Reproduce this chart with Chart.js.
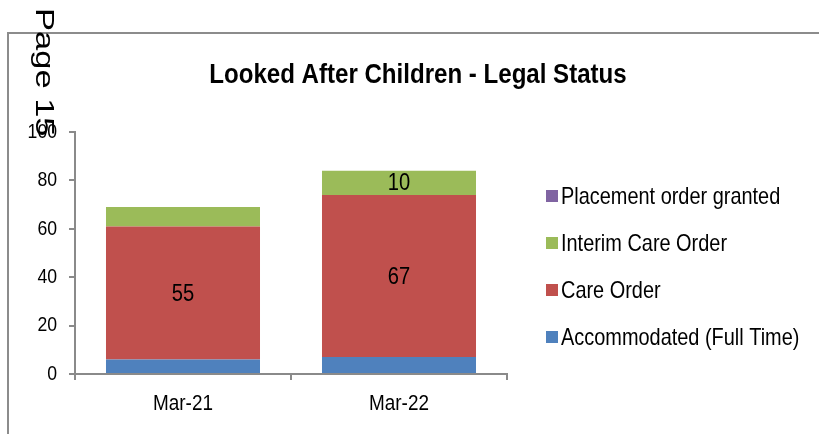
<!DOCTYPE html>
<html>
<head>
<meta charset="utf-8">
<script src="https://cdn.jsdelivr.net/npm/chart.js@4.4.1/dist/chart.umd.min.js"></script>
<style>
  html, body { margin: 0; padding: 0; background: #fff; }
  #wrap { width: 819px; height: 434px; }
</style>
</head>
<body>
<div id="wrap"><canvas id="legalChart" width="819" height="434"></canvas></div>
<script>
const categories = ['Mar-21', 'Mar-22'];
const seriesNames = ['Accommodated (Full Time)', 'Care Order', 'Interim Care Order', 'Placement order granted'];
const accommodated = [6, 7];
const careOrder = [55, 67];
const interimCareOrder = [8, 10];
const placementOrder = [0, 0];
const yTicks = [0, 20, 40, 60, 80, 100];

const colours = ['#4F81BD', '#C0504D', '#9BBB59', '#8064A2'];
const sans = '"Liberation Sans", Arial, sans-serif';
const axisGrey = '#8a8a8a';

// no narrow face is installed, so squeeze the regular one sideways
function narrowText(ctx, text, x, y, size, align, squeeze, bold) {
    ctx.save();
    ctx.translate(x, y);
    ctx.scale(squeeze, 1);
    ctx.font = (bold ? 'bold ' : '') + size + 'px ' + sans;
    ctx.textAlign = align;
    ctx.textBaseline = 'middle';
    ctx.fillStyle = '#000';
    ctx.fillText(text, 0, 0);
    ctx.restore();
}

// frame, page marker, title, tick labels, data labels and the legend
const extras = {
    id: 'extras',
    beforeDraw(chart) {
        const ctx = chart.ctx;
        ctx.save();
        ctx.strokeStyle = '#8c8c8c';
        ctx.lineWidth = 2;
        ctx.beginPath();
        ctx.moveTo(8, 434);
        ctx.lineTo(8, 33);
        ctx.lineTo(819, 33);
        ctx.stroke();
        ctx.restore();
    },
    afterDraw(chart) {
        const ctx = chart.ctx;

        narrowText(ctx, 'Looked After Children - Legal Status', 418, 75, 28, 'center', 0.86, true);

        const ys = chart.scales.y;
        yTicks.forEach(v => {
            narrowText(ctx, String(v), 57, ys.getPixelForValue(v), 21, 'right', 0.84);
        });
        const xs = chart.scales.x;
        categories.forEach((c, i) => {
            narrowText(ctx, c, xs.getPixelForTick(i), 404, 22, 'center', 0.86);
        });

        chart.data.datasets.forEach((ds, i) => {
            const meta = chart.getDatasetMeta(i);
            meta.data.forEach((bar, j) => {
                const v = ds.data[j];
                if (v >= 10) {
                    narrowText(ctx, String(v), bar.x, (bar.y + bar.base) / 2 + 1, 24, 'center', 0.84);
                }
            });
        });

        const items = chart.data.datasets.slice().reverse();
        items.forEach((ds, k) => {
            const y = 196 + k * 47;
            ctx.fillStyle = ds.backgroundColor;
            ctx.fillRect(546, y - 6, 12, 12);
            narrowText(ctx, ds.label, 561, y + 1, 24, 'left', 0.83);
        });

        // rotated page marker
        ctx.save();
        ctx.translate(36, 8);
        ctx.rotate(Math.PI / 2);
        ctx.scale(1.38, 1);
        ctx.font = '25px ' + sans;
        ctx.fillStyle = '#000';
        ctx.textBaseline = 'alphabetic';
        ctx.fillText('Page 15', 0, 0);
        ctx.restore();
    }
};

const ctx = document.getElementById('legalChart').getContext('2d');
new Chart(ctx, {
    type: 'bar',
    data: {
        labels: categories,
        datasets: [
            { label: seriesNames[0], data: accommodated, backgroundColor: colours[0] },
            { label: seriesNames[1], data: careOrder, backgroundColor: colours[1] },
            { label: seriesNames[2], data: interimCareOrder, backgroundColor: colours[2] },
            { label: seriesNames[3], data: placementOrder, backgroundColor: colours[3] }
        ]
    },
    options: {
        responsive: false,
        animation: false,
        events: [],
        layout: { padding: { left: 0, right: 312, top: 132, bottom: 20 } },
        datasets: { bar: { categoryPercentage: 1, barPercentage: 0.713 } },
        plugins: {
            legend: { display: false },
            title: { display: false },
            tooltip: { enabled: false }
        },
        scales: {
            x: {
                stacked: true,
                border: { color: axisGrey, width: 2 },
                grid: { drawOnChartArea: false, color: axisGrey, lineWidth: 2, tickLength: 6, offset: true },
                ticks: { display: false },
                afterFit(scale) { scale.height = 40; }
            },
            y: {
                stacked: true,
                min: 0,
                max: 100,
                afterBuildTicks(scale) { scale.ticks = yTicks.map(v => ({ value: v })); },
                border: { color: axisGrey, width: 2 },
                grid: { drawOnChartArea: false, color: axisGrey, lineWidth: 2, tickLength: 6 },
                ticks: { display: false },
                afterFit(scale) { scale.width = 75; }
            }
        }
    },
    plugins: [extras]
});
</script>
</body>
</html>
